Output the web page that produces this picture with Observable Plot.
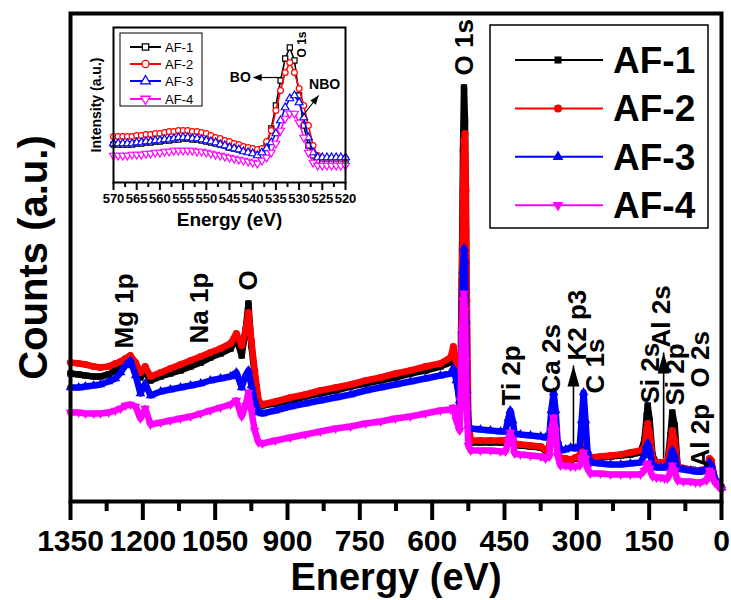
<!DOCTYPE html>
<html><head><meta charset="utf-8">
<script src="https://cdn.jsdelivr.net/npm/d3@7"></script>
<script src="https://cdn.jsdelivr.net/npm/@observablehq/plot@0.6"></script>
<style>
html,body{margin:0;padding:0;background:#fff;}
#wrap{position:relative;width:731px;height:600px;}
#wrap > svg{position:absolute;left:0;top:0;}
#wrap > svg.inset{left:60px;top:15px;}
</style></head>
<body><div id="wrap"></div>
<script>
const FONT = "'Liberation Sans', Arial, Helvetica, sans-serif";

// ---- survey spectrum (binding energy, eV) ----
const energy = [1350,1333,1319,1302,1288,1271,1257,1246,1236,1226,
 1215,1205,1195,1184,1163,1143,1122,1101,1080,1060,
 1039,1018,1006,995,987,981,975,968,960,952,
 925,894,863,832,800,769,738,707,676,645,
 614,583,562,556,550,543,541,538,536,534,
 532,530,528,525,520,500,479,458,448,442,
 438,433,429,417,396,375,365,357,353,348,
 344,340,334,323,313,303,294,290,286,282,
 278,272,251,230,209,189,168,160,155,153,
 149,143,135,126,118,112,106,102,97,91,
 79,64,54,44,31,25,21,14,6,0];

const countsAF1 = [128,127,126,125,125,127,131,135,139,143,
 135,124,130,121,125,128,131,135,139,144,
 148,153,163,146,171,198,156,126,99,96,
 98,101,105,108,111,115,118,121,124,128,
 131,135,139,149,133,96,131,251,351,414,
 381,271,141,71,59,59,59,59,59,61,
 64,61,57,56,55,54,51,53,76,91,
 71,49,43,42,41,43,44,53,61,53,
 43,43,44,45,46,47,49,61,86,96,
 81,46,39,39,38,39,66,89,76,35,
 33,32,31,30,31,39,38,23,18,14];

const countsAF2 = [139,138,137,135,134,135,138,140,143,146,
 139,129,135,125,129,133,137,141,145,149,
 153,158,168,156,171,189,161,131,101,97,
 100,104,107,111,114,117,121,124,128,131,
 135,138,144,155,139,101,111,221,311,361,
 368,311,201,81,61,61,61,61,61,63,
 65,63,58,57,56,55,52,54,71,86,
 69,49,43,43,42,44,46,56,63,56,
 45,44,45,46,47,49,51,54,73,78,
 69,43,39,39,39,39,56,71,61,35,
 33,32,31,31,33,43,41,23,18,14];

const countsAF3 = [114,114,115,116,117,120,123,129,136,141,
 126,108,118,106,110,112,114,116,118,121,
 123,125,129,114,126,131,116,101,89,88,
 91,95,98,101,104,107,111,114,117,120,
 123,126,128,133,121,101,106,171,231,253,
 241,181,111,76,73,72,71,70,70,83,
 91,81,68,67,66,65,64,66,91,109,
 91,61,51,52,54,53,56,81,109,81,
 51,39,38,37,37,38,39,46,56,58,
 51,36,34,34,34,34,43,51,45,33,
 32,31,30,30,33,39,36,23,18,14];

const countsAF4 = [89,89,88,88,88,89,91,93,96,97,
 95,83,93,77,79,81,83,85,88,91,
 94,97,101,85,96,109,91,71,59,58,
 61,64,67,70,73,75,78,80,83,85,
 88,91,92,94,81,71,101,171,201,208,
 191,141,91,56,51,51,51,50,50,61,
 69,61,48,47,46,45,43,45,71,84,
 71,46,36,36,35,35,36,43,49,43,
 33,28,28,27,27,27,27,31,36,38,
 33,25,24,24,23,23,29,36,31,21,
 20,20,19,19,21,31,29,19,15,12];

const majorTicks = [1350,1200,1050,900,750,600,450,300,150,0];
const minorTicks = [1275,1125,975,825,675,525,375,225,75];

// peak labels in the survey
const peakLabels = ["Mg 1p","Na 1p","O","O 1s","Ti 2p","Ca 2s","K2 p3","C 1s","Si 2s","Al 2s","Si 2p","Al 2p","O 2s"];
const peakLabelEnergy = [1238,1082,981,533,435,352,299,261,147,124,95,43,43];
const peakLabelCounts = [153,158,211,426,96,108,141,108,98,154,96,34,114];
const arrowEnergy = [307,120];
const arrowFrom = [56,43];
const arrowTo = [136,149];

// ---- inset: O 1s region ----
const insetEnergy = [570,569,568,567,566,565,564,563,562,561,
 560,559,558,557,556,555,554,553,552,551,
 550,549,548,547,546,545,544,543,542,541,
 540,539,538,537,536,535,534,533,532,531,
 530,529,528,527,526,525,524,523,522,521,520];
const insetAF1 = [38,38,38,38,38,39,39,40,40,41,
 41,42,42,43,43,44,44,43,43,42,
 41,40,39,38,37,35,34,33,32,32,
 31,31,32,37,54,77,102,124,135,122,
 87,57,37,27,22,20,20,20,20,20,20];
const insetAF2 = [46,46,46,46,46,47,47,48,48,49,
 49,50,51,51,52,52,52,51,51,50,
 49,47,45,44,42,41,39,38,36,35,
 34,33,34,41,52,72,92,110,120,110,
 94,77,57,37,27,24,24,24,24,24,24];
const insetAF3 = [39,39,39,39,39,40,40,41,41,42,
 42,43,43,44,45,45,45,44,44,43,
 42,41,40,38,37,35,34,33,31,30,
 29,27,30,34,40,49,62,75,84,87,
 80,65,45,30,25,25,25,25,25,25,25];
const insetAF4 = [27,27,27,27,28,28,28,29,29,30,
 30,31,31,32,32,32,32,32,31,31,
 30,29,28,27,26,25,24,23,22,21,
 20,19,22,25,30,39,52,64,69,69,
 60,45,30,20,17,17,17,17,17,17,17];
const insetMajor = [570,565,560,555,550,545,540,535,530,525,520];
const insetMinor = [567.5,562.5,557.5,552.5,547.5,542.5,537.5,532.5,527.5,522.5];

const seriesNames = ["AF-1","AF-2","AF-3","AF-4"];
const seriesColors = ["#000000","#ff0000","#0000ff","#ff00ff"];

// ---- symbols ----
const triangleDown = {draw(ctx, size) {
  const y = Math.sqrt(size / (Math.sqrt(3) * 3));
  ctx.moveTo(0, y * 2); ctx.lineTo(Math.sqrt(3) * y, -y); ctx.lineTo(-Math.sqrt(3) * y, -y); ctx.closePath();
}};
function headSymbol(ux, uy, len, wid) {
  return {draw(ctx) {
    const qx = -uy, qy = ux;
    ctx.moveTo(0, 0);
    ctx.lineTo(-ux * len + qx * wid / 2, -uy * len + qy * wid / 2);
    ctx.lineTo(-ux * len - qx * wid / 2, -uy * len - qy * wid / 2);
    ctx.closePath();
  }};
}
const plotSymbols = ["square", "circle", "triangle", triangleDown];
const d3Symbols = [d3.symbolSquare, d3.symbolCircle, d3.symbolTriangle, triangleDown];

const mainSeries = [countsAF1, countsAF2, countsAF3, countsAF4].map((vals, k) =>
  energy.map((E, i) => ({E, c: vals[i], k})));
const insetSeries = [insetAF1, insetAF2, insetAF3, insetAF4].map((vals, k) =>
  insetEnergy.map((E, i) => ({E, c: vals[i], k})));

// ---- main chart ----
const seriesMarks = [];
mainSeries.forEach((rows, k) => {
  seriesMarks.push(Plot.line(rows, {x: "E", y: "c", stroke: seriesColors[k], strokeWidth: 6.5}));
  seriesMarks.push(Plot.dot(rows, {x: "E", y: "c", symbol: plotSymbols[k], fill: seriesColors[k], stroke: "none", r: 3.6}));
});
const arrows = arrowEnergy.map((E, i) => ({E, from: arrowFrom[i], to: arrowTo[i]}));
const labels = peakLabels.map((t, i) => ({t, E: peakLabelEnergy[i], c: peakLabelCounts[i]}));

const main = Plot.plot({
  width: 731, height: 600,
  marginLeft: 70, marginRight: 10, marginTop: 13, marginBottom: 99,
  style: {fontFamily: FONT, fontWeight: "bold", background: "white", color: "black"},
  x: {domain: [1350, 0]},
  y: {domain: [0, 488], axis: null},
  marks: [
    Plot.axisX(minorTicks, {tickSize: 10, strokeWidth: 4, text: null, label: null}),
    Plot.axisX(majorTicks, {tickSize: 19, strokeWidth: 4, tickPadding: 9, fontSize: 30, tickFormat: "d", label: null}),
    ...seriesMarks,
    Plot.text(labels, {x: "E", y: "c", text: "t", rotate: -90, textAnchor: "start", lineAnchor: "middle", fontSize: 26, fill: "black"}),
    Plot.link(arrows, {x1: "E", x2: "E", y1: "from", y2: "to", stroke: "black", strokeWidth: 1.6}),
    Plot.dot(arrows, {x: "E", y: "to", symbol: headSymbol(0, -1, 21, 12), fill: "black", stroke: "none"}),
    Plot.frame({strokeWidth: 4, stroke: "black"}),
    Plot.text(["Energy (eV)"], {frameAnchor: "bottom", dy: 76, textAnchor: "middle", lineAnchor: "middle", fontSize: 38}),
    Plot.text(["Counts (a.u.)"], {frameAnchor: "left", dx: -36, rotate: -90, textAnchor: "middle", lineAnchor: "middle", fontSize: 40})
  ]
});

// main legend
{
  const svg = d3.select(main);
  const g = svg.append("g").attr("text-anchor", "start");
  g.append("rect").attr("x", 490).attr("y", 25).attr("width", 218).attr("height", 203)
    .attr("fill", "white").attr("stroke", "black").attr("stroke-width", 1.5);
  seriesNames.forEach((name, k) => {
    const y = 60 + k * 48.4;
    g.append("line").attr("x1", 515).attr("x2", 603).attr("y1", y).attr("y2", y)
      .attr("stroke", seriesColors[k]).attr("stroke-width", 2);
    g.append("path").attr("d", d3.symbol(d3Symbols[k], 50)())
      .attr("transform", `translate(558,${y})`).attr("fill", seriesColors[k]);
    g.append("text").attr("x", 613).attr("y", y + 13).attr("font-size", 37)
      .attr("text-anchor", "start")
      .attr("font-weight", "bold").attr("font-family", FONT).attr("fill", "black").text(name);
  });
}

// ---- inset chart ----
const insetMarks = [];
insetSeries.forEach((rows, k) => {
  insetMarks.push(Plot.line(rows, {x: "E", y: "c", stroke: seriesColors[k], strokeWidth: 1.6}));
  insetMarks.push(Plot.dot(rows, {x: "E", y: "c", symbol: plotSymbols[k], fill: "white", stroke: seriesColors[k], strokeWidth: 1.2, r: 2.9}));
});
const boArrow = [{x1: 533.8, x2: 538.5, y: 105}];
const nboArrow = [{x1: 529.5, y1: 65, x2: 525.8, y2: 87}];

const inset = Plot.plot({
  width: 300, height: 215,
  marginLeft: 53, marginRight: 15, marginTop: 12, marginBottom: 48,
  style: {fontFamily: FONT, fontWeight: "bold", background: "none", color: "black", overflow: "visible"},
  x: {domain: [570, 520]},
  y: {domain: [0, 155], axis: null},
  marks: [
    Plot.axisX(insetMinor, {tickSize: 5, strokeWidth: 2, text: null, label: null}),
    Plot.axisX(insetMajor, {tickSize: 8, strokeWidth: 2, tickPadding: 3, fontSize: 13, tickFormat: "d", label: null}),
    ...insetMarks,
    Plot.frame({strokeWidth: 2, stroke: "black"}),
    Plot.link(boArrow, {x1: "x1", x2: "x2", y1: "y", y2: "y", stroke: "black", strokeWidth: 1.2}),
    Plot.dot([{x: 540.0, y: 105}], {x: "x", y: "y", symbol: headSymbol(-1, 0, 9, 7), fill: "black", stroke: "none"}),
    Plot.link(nboArrow, {x1: "x1", x2: "x2", y1: "y1", y2: "y2", stroke: "black", strokeWidth: 1.2}),
    Plot.dot([{x: 525.8, y: 87}], {x: "x", y: "y", symbol: headSymbol(0.611, -0.791, 9, 7), fill: "black", stroke: "none"}),
    Plot.text([{t: "BO", x: 540.4, y: 105}], {x: "x", y: "y", text: "t", textAnchor: "end", lineAnchor: "middle", fontSize: 14}),
    Plot.text([{t: "NBO", x: 524.5, y: 98}], {x: "x", y: "y", text: "t", textAnchor: "middle", lineAnchor: "middle", fontSize: 14}),
    Plot.text([{t: "O 1s", x: 529.3, y: 125}], {x: "x", y: "y", text: "t", rotate: -90, textAnchor: "start", lineAnchor: "middle", fontSize: 12}),
    Plot.text(["Energy (eV)"], {frameAnchor: "bottom", dy: 37, textAnchor: "middle", lineAnchor: "middle", fontSize: 19}),
    Plot.text(["Intensity (a.u.)"], {frameAnchor: "left", dx: -17, rotate: -90, textAnchor: "middle", lineAnchor: "middle", fontSize: 14})
  ]
});
inset.classList.add("inset");

// inset legend
{
  const svg = d3.select(inset);
  const g = svg.append("g").attr("text-anchor", "start");
  g.append("rect").attr("x", 60).attr("y", 18).attr("width", 82).attr("height", 73)
    .attr("fill", "white").attr("stroke", "black").attr("stroke-width", 1);
  const rowsY = [32, 49, 66, 84];
  seriesNames.forEach((name, k) => {
    const y = rowsY[k];
    g.append("line").attr("x1", 70).attr("x2", 101).attr("y1", y).attr("y2", y)
      .attr("stroke", seriesColors[k]).attr("stroke-width", 2);
    g.append("path").attr("d", d3.symbol(d3Symbols[k], 40)())
      .attr("transform", `translate(85.5,${y})`).attr("fill", "white")
      .attr("stroke", seriesColors[k]).attr("stroke-width", 1.3);
    g.append("text").attr("x", 105).attr("y", y + 4.7).attr("font-size", 13)
      .attr("text-anchor", "start")
      .attr("font-weight", "normal").attr("font-family", FONT).attr("fill", "black").text(name);
  });
}

const wrap = document.getElementById("wrap");
wrap.appendChild(main);
wrap.appendChild(inset);
</script>
</body></html>
